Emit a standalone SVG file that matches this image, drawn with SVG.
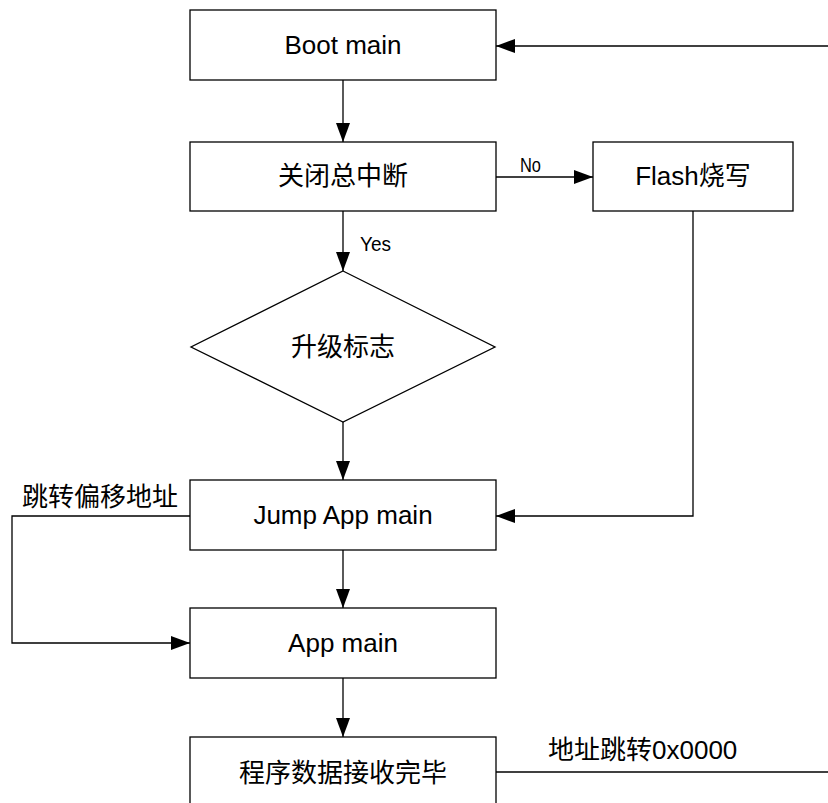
<svg xmlns="http://www.w3.org/2000/svg" width="828" height="803" viewBox="0 0 828 803">
<defs>
<marker id="arr" markerUnits="userSpaceOnUse" markerWidth="19" markerHeight="14" refX="19" refY="7" orient="auto">
<path d="M0,0 L19,7 L0,14 z" fill="#000"/>
</marker>
<style>
.box{fill:#fff;stroke:#000;stroke-width:1.3}
.t{font-family:"Liberation Sans","Noto Sans CJK SC",Arial,sans-serif;font-size:26px;fill:#000;text-anchor:middle;dominant-baseline:central}
.lbl{font-family:"Liberation Sans","Noto Sans CJK SC",Arial,sans-serif;font-size:26px;fill:#000}
.s{font-family:"Liberation Sans",Arial,sans-serif;font-size:20px;fill:#000}
.c{fill:none;stroke:#000;stroke-width:1.3}
</style>
</defs>
<rect width="828" height="803" fill="#fff"/>
<g id="connectors">
<path class="c" d="M343,80 L343,142" marker-end="url(#arr)"/>
<path class="c" d="M496,177 L593,177" marker-end="url(#arr)"/>
<path class="c" d="M343,211 L343,271" marker-end="url(#arr)"/>
<path class="c" d="M343,422 L343,480" marker-end="url(#arr)"/>
<path class="c" d="M693,211 L693,516 L496,516" marker-end="url(#arr)"/>
<path class="c" d="M828,46 L496,46" marker-end="url(#arr)"/>
<path class="c" d="M190,516 L12,516 L12,643 L190,643" marker-end="url(#arr)"/>
<path class="c" d="M343,550 L343,608" marker-end="url(#arr)"/>
<path class="c" d="M343,678 L343,737" marker-end="url(#arr)"/>
<path class="c" d="M496,772 L828,772"/>
<text class="s" x="520" y="172" textLength="21" lengthAdjust="spacingAndGlyphs">No</text>
<text class="s" x="360" y="251" textLength="31" lengthAdjust="spacingAndGlyphs">Yes</text>
<text class="lbl" x="22" y="506">跳转偏移地址</text>
<text class="lbl" x="548" y="759">地址跳转0x0000</text>
</g>
<g id="boot">
<rect class="box" x="190" y="10" width="306" height="70"/>
<text class="t" x="343" y="45">Boot main</text>
</g>
<g id="disable_irq">
<rect class="box" x="190" y="142" width="306" height="69"/>
<text class="t" x="343" y="176">关闭总中断</text>
</g>
<g id="flash">
<rect class="box" x="593" y="142" width="200" height="69"/>
<text class="t" x="693" y="176">Flash烧写</text>
</g>
<g id="flag">
<polygon class="box" points="343,271 495,347 343,422 191,347"/>
<text class="t" x="343" y="347">升级标志</text>
</g>
<g id="jump">
<rect class="box" x="190" y="480" width="306" height="70"/>
<text class="t" x="343" y="515">Jump App main</text>
</g>
<g id="app">
<rect class="box" x="190" y="608" width="306" height="70"/>
<text class="t" x="343" y="643">App main</text>
</g>
<g id="recv">
<rect class="box" x="190" y="737" width="306" height="72"/>
<text class="t" x="343" y="773">程序数据接收完毕</text>
</g>
</svg>
